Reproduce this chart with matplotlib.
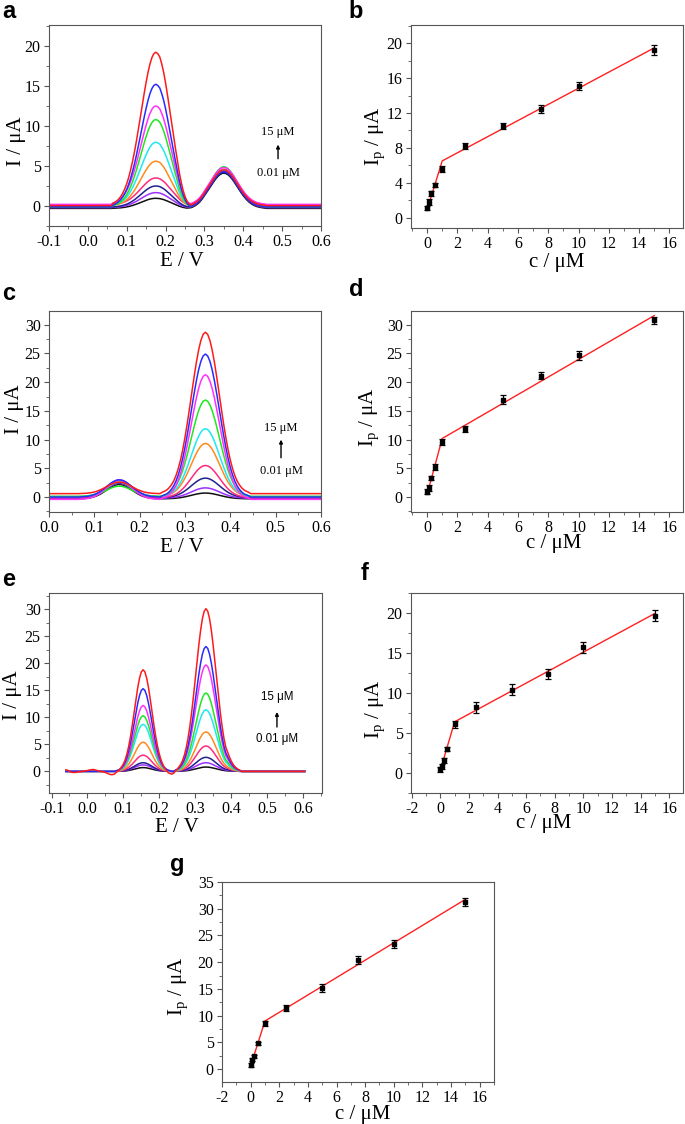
import numpy as np
import matplotlib.pyplot as plt
from matplotlib.ticker import MultipleLocator, FormatStrFormatter

plt.rcParams['font.family'] = ['Liberation Serif', 'DejaVu Serif']
plt.rcParams['mathtext.fontset'] = 'custom'
plt.rcParams['mathtext.rm'] = 'Liberation Serif'
plt.rcParams['mathtext.it'] = 'Liberation Serif:italic'
plt.rcParams['axes.unicode_minus'] = False

# curve colours, lowest -> highest concentration
COLORS = ['#101010', '#9b30ff', '#20208f', '#ff2a7f', '#ff8a1e',
          '#1ee8f0', '#1ee81e', '#ff30ff', '#2a2aff', '#ff1a1a']
STEP = 0.005  # potential sampling step (V)

# ---- panel a: DPV curves (peak profiles, normalised)
E_A_START, E_A_N = -0.105, 143
P1_A_START = 0.060
P1_A = [0.0, 0.015, 0.022, 0.031, 0.044, 0.06, 0.082, 0.109, 0.142, 0.183,
        0.232, 0.288, 0.351, 0.421, 0.496, 0.575, 0.654, 0.732, 0.805, 0.871,
        0.925, 0.966, 0.991, 1.0, 0.99, 0.97, 0.925, 0.87, 0.80, 0.72,
        0.635, 0.55, 0.465, 0.38, 0.30, 0.22, 0.155, 0.10, 0.06, 0.03,
        0.01, 0.0]
P2_A_START = 0.255
P2_A = [0.0, 0.01, 0.02, 0.04, 0.07, 0.105, 0.15, 0.21, 0.28, 0.361,
        0.438, 0.521, 0.607, 0.693, 0.775, 0.849, 0.912, 0.96, 0.99, 1.0,
        0.99, 0.96, 0.912, 0.849, 0.775, 0.693, 0.607, 0.521, 0.438, 0.361,
        0.291, 0.23, 0.178, 0.135, 0.101, 0.073, 0.052, 0.037, 0.025, 0.017,
        0.01, 0.0]
PK1_A = [0.96, 1.67, 2.5, 3.5, 5.6, 7.96, 10.8, 12.5, 15.2, 19.2]
PK2_A = [4.1, 4.3, 4.2, 4.6, 4.4, 4.5, 4.9, 4.8, 4.3, 4.5]
BASE_A = [-0.3, -0.2, -0.15, 0.15, 0.0, 0.0, -0.1, 0.2, -0.1, 0.05]

# ---- panel b: calibration
C_B = [0.01, 0.1, 0.25, 0.5, 1, 2.5, 5, 7.5, 10, 15]
I_B = [1.07, 1.79, 2.79, 3.74, 5.57, 8.24, 10.5, 12.5, 15.08, 19.2]
ERR_B = [0.2, 0.3, 0.3, 0.25, 0.3, 0.35, 0.3, 0.45, 0.45, 0.55]
FIT_B_C = [0.01, 1.0, 15]
FIT_B_I = [0.9, 6.5, 19.47]

# ---- panel c: DPV curves
E_C_START, E_C_N = 0.0, 122
P1_C_START = 0.070
P1_C = [0.01, 0.017, 0.028, 0.044, 0.068, 0.101, 0.145, 0.203, 0.275, 0.36,
        0.458, 0.563, 0.671, 0.775, 0.866, 0.938, 0.984, 1.0, 0.984, 0.938,
        0.866, 0.775, 0.671, 0.563, 0.458, 0.36, 0.275, 0.203, 0.145, 0.101,
        0.068, 0.044, 0.028, 0.017, 0.01]
P2_C_START = 0.250
P2_C = [0.009, 0.015, 0.023, 0.036, 0.054, 0.078, 0.111, 0.154, 0.207, 0.272,
        0.349, 0.435, 0.529, 0.626, 0.722, 0.812, 0.889, 0.949, 0.987, 1.0,
        0.987, 0.949, 0.889, 0.812, 0.722, 0.626, 0.529, 0.435, 0.349, 0.272,
        0.207, 0.154, 0.111, 0.078, 0.054, 0.036, 0.023, 0.015, 0.009, 0.0]
PK1_C = [2.2, 2.4, 2.5, 2.6, 2.7, 2.6, 1.9, 3.0, 3.0, 2.6]
PK2_C = [0.7, 1.6, 3.3, 5.5, 9.35, 11.9, 16.9, 21.3, 24.9, 28.7]
BASE_C = [-0.3, -0.2, -0.1, -0.1, 0.1, 0.1, 0.1, -0.4, 0.0, 0.6]

# ---- panel d: calibration
C_D = C_B
I_D = [0.93, 1.57, 3.3, 5.28, 9.63, 11.84, 16.95, 21.1, 24.67, 30.76]
ERR_D = [0.45, 0.5, 0.4, 0.5, 0.5, 0.5, 0.8, 0.6, 0.8, 0.6]
FIT_D_C = [0.05, 1.0, 15]
FIT_D_I = [0.9, 10.2, 31.6]

# ---- panel e: DPV curves
E_E_START, E_E_N = -0.060, 134
P1_E_START = 0.080
P1_E = [0.008, 0.014, 0.026, 0.044, 0.072, 0.114, 0.172, 0.249, 0.345, 0.458,
        0.581, 0.707, 0.823, 0.917, 0.979, 1.0, 0.979, 0.917, 0.823, 0.707,
        0.581, 0.458, 0.345, 0.249, 0.172, 0.114, 0.072, 0.044, 0.026, 0.014,
        0.008]
P2_E_START = 0.245
P2_E = [0.01, 0.017, 0.028, 0.044, 0.068, 0.101, 0.145, 0.203, 0.275, 0.36,
        0.458, 0.563, 0.671, 0.775, 0.866, 0.938, 0.984, 1.0, 0.984, 0.938,
        0.866, 0.775, 0.671, 0.563, 0.458, 0.36, 0.275, 0.203, 0.15, 0.12,
        0.09, 0.065, 0.045, 0.03, 0.02, 0.012, 0.006, 0.0]
PK1_E = [0.7, 1.2, 1.6, 3.0, 5.4, 8.7, 10.3, 12.2, 15.3, 18.8]
PK2_E = [0.8, 1.6, 2.6, 4.7, 7.3, 11.4, 14.5, 19.7, 23.1, 30.1]
BASE_E = [0.0, 0.0, 0.0, 0.0, 0.0, 0.0, 0.0, 0.0, 0.0, 0.0]
# baseline wiggles on the red trace: (start E, values every STEP)
RED_WIGGLE_E = [
    (-0.060, [0.3, 0.2, 0.0, -0.15, -0.2, -0.2, -0.15, -0.1, -0.05, 0.0,
              0.05, 0.1, 0.15, 0.25, 0.3, 0.35, 0.3, 0.2, 0.1, 0.0,
              -0.05, -0.1, -0.2, -0.35, -0.5, -0.6, -0.6, -0.5, -0.35, -0.2,
              -0.1, 0.0]),
    (0.205, [-0.05, -0.1, -0.2, -0.35, -0.5, -0.55, -0.5, -0.35, -0.2, -0.1, 0.0]),
]

# ---- panel f: calibration
C_F = C_B
I_F = [0.46, 0.83, 1.58, 3.04, 6.07, 8.23, 10.4, 12.39, 15.72, 19.67]
ERR_F = [0.3, 0.3, 0.3, 0.25, 0.4, 0.7, 0.7, 0.6, 0.7, 0.7]
FIT_F_C = [0.0, 1.0, 15]
FIT_F_I = [0.35, 6.4, 19.95]

# ---- panel g: calibration
C_G = C_B
I_G = [0.81, 1.74, 2.37, 4.86, 8.59, 11.4, 15.1, 20.4, 23.4, 31.3]
ERR_G = [0.35, 0.3, 0.35, 0.3, 0.5, 0.6, 0.75, 0.8, 0.7, 0.8]
FIT_G_C = [0.0, 1.0, 15]
FIT_G_I = [0.6, 9.0, 31.75]

W, H = 685, 1124
SPINE = '#555555'


def add_axes(fig, left, top, right, bottom):
    return fig.add_axes([left / W, 1 - bottom / H, (right - left) / W, (bottom - top) / H])


def style(ax, xlim, ylim, xmaj, xmin, ymaj, ymin, xfmt=None):
    ax.set_xlim(*xlim)
    ax.set_ylim(*ylim)
    ax.xaxis.set_major_locator(MultipleLocator(xmaj))
    ax.xaxis.set_minor_locator(MultipleLocator(xmin))
    ax.yaxis.set_major_locator(MultipleLocator(ymaj))
    ax.yaxis.set_minor_locator(MultipleLocator(ymin))
    if xfmt:
        ax.xaxis.set_major_formatter(FormatStrFormatter(xfmt))
    for s in ax.spines.values():
        s.set_color(SPINE)
        s.set_linewidth(0.8)
    ax.tick_params(which='both', direction='out', top=False, right=False,
                   color=SPINE, labelsize=11.5)
    ax.tick_params(which='major', length=3.5, width=0.8)
    ax.tick_params(which='minor', length=2, width=0.6)
    ax.tick_params(axis='x', pad=2)
    ax.tick_params(axis='y', pad=2.5)


def placed(n, start, e_start, values):
    arr = np.zeros(n)
    i0 = int(round((start - e_start) / STEP))
    arr[i0:i0 + len(values)] = values
    return arr


def dpv(ax, e_start, n, p1_start, p1, p2_start, p2, pk1, pk2, base, extra=None):
    e = e_start + STEP * np.arange(n)
    prof1 = placed(n, p1_start, e_start, p1)
    prof2 = placed(n, p2_start, e_start, p2)
    for i, col in enumerate(COLORS):
        y = base[i] + (pk1[i] - base[i]) * prof1 + (pk2[i] - base[i]) * prof2
        if extra is not None and i == len(COLORS) - 1:
            for start, vals in extra:
                y += placed(n, start, e_start, vals)
        ax.plot(e, y, color=col, lw=1.1)


def calib(ax, c, i, err, fit_c, fit_i):
    ax.plot(fit_c, fit_i, color='#ff2020', lw=1.0, zorder=2)
    ax.errorbar(c, i, yerr=err, fmt='s', color='k', ms=3.3, capsize=2.5,
                elinewidth=0.9, capthick=0.9, zorder=3)


def conc_note(ax, x, y_hi, y_a0, y_a1, y_lo, sans=False):
    kw = dict(transform=ax.transAxes, ha='center', va='center', fontsize=9)
    if sans:
        kw['family'] = ['Liberation Sans', 'DejaVu Sans']
        kw['fontsize'] = 8.3
    ax.text(x, y_hi, '15 μM', **kw)
    ax.text(x, y_lo, '0.01 μM', **kw)
    ax.annotate('', xy=(x, y_a1), xytext=(x, y_a0), xycoords='axes fraction',
                arrowprops=dict(arrowstyle='-|>', color='k', lw=1.0,
                                mutation_scale=5, shrinkA=0, shrinkB=0))


fig = plt.figure(figsize=(W / 100, H / 100), dpi=100)

IV_LABEL = 'I / μA'
IP_LABEL = r'I$_{\rm p}$ / μA'
E_LABEL = 'E / V'
C_LABEL = 'c / μM'
LAB = 15

# a
ax = add_axes(fig, 49, 25, 321, 226)
dpv(ax, E_A_START, E_A_N, P1_A_START, P1_A, P2_A_START, P2_A, PK1_A, PK2_A, BASE_A)
style(ax, (-0.1, 0.6), (-2.5, 22.6), 0.1, 0.05, 5, 2.5, '%.1f')
ax.set_xlabel(E_LABEL, fontsize=LAB)
ax.set_ylabel(IV_LABEL, fontsize=LAB)
ax.xaxis.set_label_coords(0.488, -0.129)
ax.yaxis.set_label_coords(-0.085, 0.42)
conc_note(ax, 0.842, 0.469, 0.335, 0.405, 0.264)

# b
ax = add_axes(fig, 411, 25, 683, 228)
calib(ax, C_B, I_B, ERR_B, FIT_B_C, FIT_B_I)
style(ax, (-1.06, 16.9), (-1.2, 22.1), 2, 1, 4, 2)
ax.set_xlabel(C_LABEL, fontsize=LAB)
ax.set_ylabel(IP_LABEL, fontsize=LAB)
ax.xaxis.set_label_coords(0.536, -0.123)
ax.yaxis.set_label_coords(-0.087, 0.45)

# c
ax = add_axes(fig, 49, 311, 321, 512)
dpv(ax, E_C_START, E_C_N, P1_C_START, P1_C, P2_C_START, P2_C, PK1_C, PK2_C, BASE_C)
style(ax, (0.0, 0.6), (-2.6, 32.4), 0.1, 0.05, 5, 2.5, '%.1f')
ax.set_xlabel(E_LABEL, fontsize=LAB)
ax.set_ylabel(IV_LABEL, fontsize=LAB)
ax.xaxis.set_label_coords(0.488, -0.127)
ax.yaxis.set_label_coords(-0.093, 0.51)
conc_note(ax, 0.853, 0.418, 0.27, 0.36, 0.205)

# d
ax = add_axes(fig, 411, 311, 683, 512)
calib(ax, C_D, I_D, ERR_D, FIT_D_C, FIT_D_I)
style(ax, (-1.06, 16.9), (-2.6, 32.4), 2, 1, 5, 2.5)
ax.set_xlabel(C_LABEL, fontsize=LAB)
ax.set_ylabel(IP_LABEL, fontsize=LAB)
ax.xaxis.set_label_coords(0.523, -0.11)
ax.yaxis.set_label_coords(-0.11, 0.47)

# e
ax = add_axes(fig, 49, 593, 322, 793)
dpv(ax, E_E_START, E_E_N, P1_E_START, P1_E, P2_E_START, P2_E, PK1_E, PK2_E, BASE_E,
    extra=RED_WIGGLE_E)
style(ax, (-0.107, 0.653), (-4.0, 33.0), 0.1, 0.05, 5, 2.5, '%.1f')
ax.set_xlabel(E_LABEL, fontsize=LAB)
ax.set_ylabel(IV_LABEL, fontsize=LAB)
ax.xaxis.set_label_coords(0.468, -0.123)
ax.yaxis.set_label_coords(-0.10, 0.49)
conc_note(ax, 0.835, 0.48, 0.33, 0.405, 0.272, sans=True)

# f
ax = add_axes(fig, 411, 593, 683, 793)
calib(ax, C_F, I_F, ERR_F, FIT_F_C, FIT_F_I)
style(ax, (-2.05, 16.96), (-2.5, 22.5), 2, 1, 5, 2.5)
ax.set_xlabel(C_LABEL, fontsize=LAB)
ax.set_ylabel(IP_LABEL, fontsize=LAB)
ax.xaxis.set_label_coords(0.486, -0.107)
ax.yaxis.set_label_coords(-0.088, 0.42)

# g
ax = add_axes(fig, 222, 882, 494, 1082)
calib(ax, C_G, I_G, ERR_G, FIT_G_C, FIT_G_I)
style(ax, (-2.0, 17.0), (-2.4, 35.0), 2, 1, 5, 2.5)
ax.set_xlabel(C_LABEL, fontsize=LAB)
ax.set_ylabel(IP_LABEL, fontsize=LAB)
ax.xaxis.set_label_coords(0.518, -0.113)
ax.yaxis.set_label_coords(-0.118, 0.48)

# panel letters
letters = [('a', 9, 12), ('b', 356, 11), ('c', 9, 293), ('d', 356, 290),
           ('e', 9, 579), ('f', 365, 573), ('g', 177, 864)]
for t, x, y in letters:
    fig.text(x / W, 1 - y / H, t, fontsize=17, fontweight='bold',
             family=['Liberation Sans', 'DejaVu Sans'], ha='center', va='center')

fig.savefig('out.png', dpi=100)
